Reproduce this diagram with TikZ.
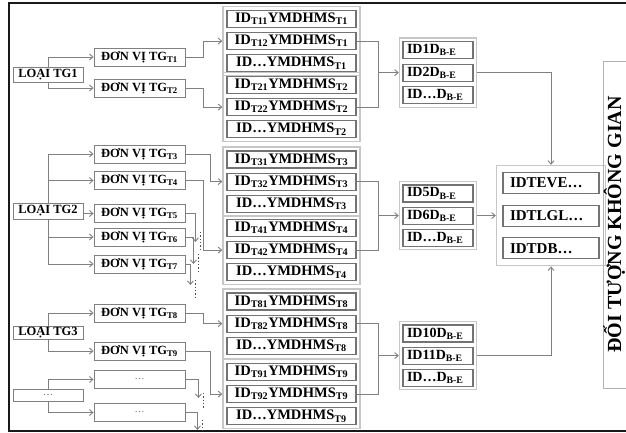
\documentclass[tikz,border=0pt]{standalone}
\usepackage{fontspec}
\setmainfont{Liberation Serif}
\usetikzlibrary{arrows.meta,positioning,fit}

\newcommand{\fsz}[1]{\fontsize{#1}{#1}\selectfont}

\begin{document}
\begin{tikzpicture}[
    x=1pt, y=1pt,
    >={Straight Barb[length=3.5pt,width=6pt]},
    node distance=4pt,
    box/.style={draw=black!50, line width=0.9pt, inner sep=0pt, font=\fsz{12.5}\bfseries},
    loai/.style={box, minimum width=70pt, minimum height=15pt},
    donvi/.style={box, minimum width=91pt, minimum height=18pt},
    blank/.style={donvi, font=\fsz{10}, text=black!60},
    idrow/.style={draw=black!55, line width=1.1pt, inner sep=0pt, minimum width=129pt, minimum height=17pt, font=\fsz{14.5}\bfseries},
    drow/.style={idrow, minimum width=0pt, text width=62pt, inner xsep=4pt, align=left, font=\fsz{14}\bfseries},
    trow/.style={idrow, minimum width=0pt, minimum height=21pt, text width=82pt, inner xsep=7pt, align=left, font=\fsz{15}\bfseries},
    grp/.style={draw=black!22, line width=1.3pt, inner sep=3.5pt},
    line/.style={draw=black!50, line width=0.9pt},
    link/.style={line, ->},
    more/.style={draw=black!70, line width=1.3pt, dotted},
]

% Page and frame
\useasboundingbox (0,0) rectangle (626,-433);
\clip (0,0) rectangle (626,-433);
\draw[line width=2pt, black!90] (640,-3) -- (9,-3) -- (9,-431) -- (640,-431);

% Loai thoi gian
\node[loai] (lt1) at (48,-74.5) {LOẠI TG1};
\node[loai, minimum height=16pt] (lt2) at (48,-211) {LOẠI TG2};
\node[loai, minimum height=13pt] (lt3) at (48,-333) {LOẠI TG3};
\node[loai, minimum height=12pt, font=\fsz{10}, text=black!60] (lt4) at (48,-395.5) {…};

% Don vi thoi gian
\node[donvi] (t1) at (139.5,-57) {ĐƠN VỊ TG\textsubscript{T1}};
\node[donvi] (t2) at (139.5,-88) {ĐƠN VỊ TG\textsubscript{T2}};
\node[donvi] (t3) at (139.5,-154) {ĐƠN VỊ TG\textsubscript{T3}};
\node[donvi] (t4) at (139.5,-180.5) {ĐƠN VỊ TG\textsubscript{T4}};
\node[donvi] (t5) at (139.5,-213.5) {ĐƠN VỊ TG\textsubscript{T5}};
\node[donvi] (t6) at (139.5,-237) {ĐƠN VỊ TG\textsubscript{T6}};
\node[donvi] (t7) at (139.5,-264) {ĐƠN VỊ TG\textsubscript{T7}};
\node[donvi] (t8) at (139.5,-313) {ĐƠN VỊ TG\textsubscript{T8}};
\node[donvi] (t9) at (139.5,-351) {ĐƠN VỊ TG\textsubscript{T9}};
\node[blank] (b1) at (139.5,-379.5) {…};
\node[blank] (b2) at (139.5,-412.5) {…};

% ID groups
\node[idrow] (r11) at (291.5,-19) {ID\textsubscript{T11}YMDHMS\textsubscript{T1}};
\node[idrow, below=of r11] (r12) {ID\textsubscript{T12}YMDHMS\textsubscript{T1}};
\node[idrow, below=of r12] (r13) {ID…YMDHMS\textsubscript{T1}};
\node[grp, fit=(r11)(r13)] (g1) {};

\node[idrow] (r21) at (291.5,-85) {ID\textsubscript{T21}YMDHMS\textsubscript{T2}};
\node[idrow, below=of r21] (r22) {ID\textsubscript{T22}YMDHMS\textsubscript{T2}};
\node[idrow, below=of r22] (r23) {ID…YMDHMS\textsubscript{T2}};
\node[grp, fit=(r21)(r23)] (g2) {};

\node[idrow] (r31) at (291.5,-159.5) {ID\textsubscript{T31}YMDHMS\textsubscript{T3}};
\node[idrow, below=of r31] (r32) {ID\textsubscript{T32}YMDHMS\textsubscript{T3}};
\node[idrow, below=of r32] (r33) {ID…YMDHMS\textsubscript{T3}};
\node[grp, fit=(r31)(r33)] (g3) {};

\node[idrow] (r41) at (291.5,-228) {ID\textsubscript{T41}YMDHMS\textsubscript{T4}};
\node[idrow, below=of r41] (r42) {ID\textsubscript{T42}YMDHMS\textsubscript{T4}};
\node[idrow, below=of r42] (r43) {ID…YMDHMS\textsubscript{T4}};
\node[grp, fit=(r41)(r43)] (g4) {};

\node[idrow] (r81) at (291.5,-301.5) {ID\textsubscript{T81}YMDHMS\textsubscript{T8}};
\node[idrow, below=of r81] (r82) {ID\textsubscript{T82}YMDHMS\textsubscript{T8}};
\node[idrow, below=of r82] (r83) {ID…YMDHMS\textsubscript{T8}};
\node[grp, fit=(r81)(r83)] (g8) {};

\node[idrow] (r91) at (291.5,-372) {ID\textsubscript{T91}YMDHMS\textsubscript{T9}};
\node[idrow, below=of r91] (r92) {ID\textsubscript{T92}YMDHMS\textsubscript{T9}};
\node[idrow, below=of r92] (r93) {ID…YMDHMS\textsubscript{T9}};
\node[grp, fit=(r91)(r93)] (g9) {};

% Khoang thoi gian
\node[drow] (d11) at (438,-50) {ID1D\textsubscript{B-E}};
\node[drow, below=4.5pt of d11] (d12) {ID2D\textsubscript{B-E}};
\node[drow, below=4.5pt of d12] (d13) {ID…D\textsubscript{B-E}};
\node[grp, inner sep=3pt, fit=(d11)(d13)] (dg1) {};

\node[drow] (d21) at (438,-193.5) {ID5D\textsubscript{B-E}};
\node[drow, below=of d21] (d22) {ID6D\textsubscript{B-E}};
\node[drow, below=of d22] (d23) {ID…D\textsubscript{B-E}};
\node[grp, inner sep=3pt, fit=(d21)(d23)] (dg2) {};

\node[drow] (d31) at (438,-333.5) {ID10D\textsubscript{B-E}};
\node[drow, below=of d31] (d32) {ID11D\textsubscript{B-E}};
\node[drow, below=of d32] (d33) {ID…D\textsubscript{B-E}};
\node[grp, inner sep=3pt, fit=(d31)(d33)] (dg3) {};

% Doi tuong
\node[trow] (e1) at (551,-183) {IDTEVE…};
\node[trow, below=10.5pt of e1] (e2) {IDTLGL…};
\node[trow, below=10.5pt of e2] (e3) {IDTDB…};
\node[grp, inner xsep=6pt, inner ysep=6.5pt, fit=(e1)(e3)] (tg) {};

\node[draw=black!30, line width=0.9pt, rotate=90, minimum width=327pt, minimum height=30pt,
      text height=14pt, text depth=10pt, font=\fsz{20}\bfseries] (kg) at (619,-224.5) {ĐỐI TƯỢNG KHÔNG GIAN};

% Loai -> don vi
\draw[link] (lt1.north) |- (t1.west);
\draw[link] (lt1.south) |- (t2.west);
\draw[link] (lt2.north) |- (t3.west);
\draw[link] (lt2.north) |- (t4.west);
\draw[link] (lt2.east |- t5) -- (t5.west);
\draw[link] (lt2.south) |- (t6.west);
\draw[link] (lt2.south) |- (t7.west);
\draw[link] (lt3.north) |- (t8.west);
\draw[link] (lt3.south) |- (t9.west);
\draw[link] (lt4.north) |- (b1.west);
\draw[link] (lt4.south) |- (b2.west);

% Don vi -> ID groups
\draw[link] (t1.east) -- ++(18,0) |- (g1.west |- r12);
\draw[link] (t2.east) -- ++(18,0) |- (g2.west |- r22);
\draw[link] (t3.east) -- ++(25,0) |- (g3.west |- r32);
\draw[link] (t4.east) -- ++(18,0) |- (g4.west |- r42);
\draw[link] (t8.east) -- ++(18,0) |- (g8.west |- r82);
\draw[link] (t9.east) -- ++(25,0) |- (g9.west |- r92);

% Continued elsewhere
\coordinate[below right=28.5pt and 10pt of t5.east] (c5);
\coordinate[below right=27pt and 8pt of t6.east] (c6);
\coordinate[below right=21pt and 5pt of t7.east] (c7);
\coordinate[below right=18.5pt and 13pt of b1.east] (cb1);
\coordinate[below right=17.5pt and 12pt of b2.east] (cb2);
\draw[link] (t5.east) -| (c5);
\draw[link] (t6.east) -| (c6);
\draw[link] (t7.east) -| (c7);
\draw[link] (b1.east) -| (cb1);
\draw[link] (b2.east) -| (cb2);
\draw[more] ([xshift=5pt,yshift=10pt]c5) -- ([xshift=5pt,yshift=-8pt]c5);
\draw[more] ([xshift=5pt,yshift=10pt]c6) -- ([xshift=5pt,yshift=-8pt]c6);
\draw[more] ([xshift=5pt,yshift=5pt]c7) -- ([xshift=5pt,yshift=-13pt]c7);
\draw[more] ([xshift=5pt,yshift=5pt]cb1) -- ([xshift=5pt,yshift=-10pt]cb1);
\draw[more] ([xshift=5pt,yshift=10pt]cb2) -- ([xshift=5pt,yshift=-3pt]cb2);

% ID groups -> khoang thoi gian
\coordinate (j1) at ([xshift=-20pt]dg1.west |- d12);
\coordinate (j2) at ([xshift=-20pt]dg2.west |- d22);
\coordinate (j3) at ([xshift=-20pt]dg3.west |- d32);
\draw[line] (r12.east) -| (j1) |- (r22.east);
\draw[line] (r32.east) -| (j2) |- (r42.east);
\draw[line] (r82.east) -| (j3) |- (r92.east);
\draw[link] (j1) -- (dg1.west |- j1);
\draw[link] (j2) -- (dg2.west |- j2);
\draw[link] (j3) -- (dg3.west |- j3);

% Khoang thoi gian -> doi tuong
\draw[link] (dg1.east |- d12) -| (tg.north);
\draw[link] (dg2.east |- d22) -- (tg.west |- d22);
\draw[link] (dg3.east |- d32) -| (tg.south);

\end{tikzpicture}
\end{document}
